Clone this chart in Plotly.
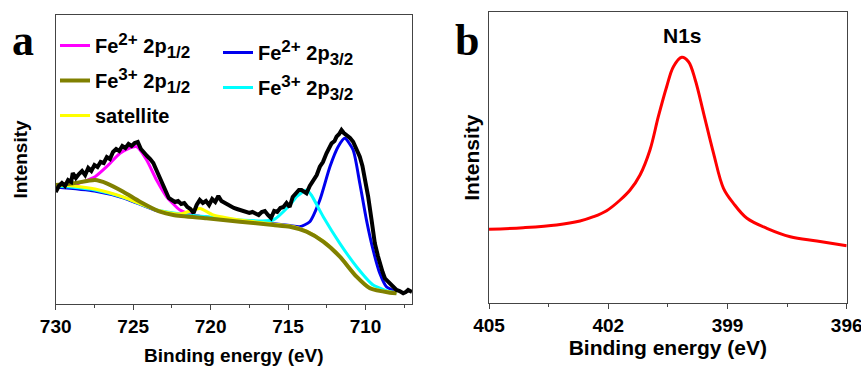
import plotly.graph_objects as go

# ---------------- Panel a: Fe 2p ----------------
fe_exp_be = [730.0, 729.8, 729.6, 729.4, 729.2, 729.0, 728.9, 728.7, 728.5, 728.3, 728.1, 727.9, 727.7,
             727.5, 727.3, 727.1, 726.9, 726.7, 726.5, 726.3, 726.1, 725.9, 725.7, 725.5, 725.3, 725.1,
             724.9, 724.7, 724.5, 724.3, 724.1, 723.9, 723.7, 723.5, 723.3, 723.1, 722.9, 722.7, 722.5,
             722.3, 722.1, 721.9, 721.7, 721.5, 721.3, 721.1, 720.9, 720.7, 720.5, 720.3, 720.1, 719.9,
             719.7, 719.5, 719.3, 719.1, 718.9, 718.7, 718.5, 718.3, 718.1, 717.9, 717.7, 717.5, 717.3,
             717.1, 716.9, 716.7, 716.5, 716.3, 716.1, 715.9, 715.7, 715.5, 715.3, 715.1, 714.9, 714.7,
             714.5, 714.3, 714.13, 713.95, 713.81, 713.6, 713.38, 713.15, 712.95, 712.75, 712.52, 712.35,
             712.19, 712.0, 711.87, 711.7, 711.55, 711.4, 711.23, 711.0, 710.8, 710.6, 710.37, 710.2,
             710.05, 709.83, 709.61, 709.4, 709.2, 709.08, 708.9, 708.75, 708.5, 708.32, 708.15, 708.0,
             707.8, 707.57, 707.4, 707.25, 707.0]
fe_exp_int = [112, 118, 121, 118, 124, 122, 131, 126, 130, 133, 129, 136, 133,
              139, 137, 142, 141, 147, 145, 152, 155, 153, 158, 156, 160, 158,
              161, 162, 155, 151, 148, 145, 141, 134, 127, 119, 112, 106, 104,
              102, 103, 100, 101, 97, 95, 91, 99, 104, 101, 103, 99, 105,
              102, 108, 103, 101, 100, 97, 96, 95, 94, 93, 92, 91, 92,
              90, 89, 92, 93, 89, 86, 93, 92, 96, 97, 101, 97, 107,
              110, 114, 114, 112, 110.7, 118, 124, 129, 137.3, 142, 150.7, 155,
              160.7, 163, 167.3, 170, 174, 171, 169, 166, 162.3, 156, 147.3, 138,
              127.3, 107.3, 84, 60.7, 48, 40.7, 32, 25.7, 22, 19, 16, 14,
              13, 10.7, 12, 14, 12]

fe2_p12_be = [730.0, 728.86, 728.22, 727.46, 726.71, 725.85, 725.3, 724.78, 724.13, 723.49, 722.84,
              721.98, 721.12, 720.26, 718.11, 716.0]
fe2_p12_int = [118, 119, 122.3, 127.3, 137.3, 150.7, 155.5, 157.3, 144, 124, 107.3,
               94, 89, 86.5, 83.5, 80]

fe2_p32_be = [730.0, 727.5, 725.6, 723.5, 722.0, 720.3, 718.1, 716.0, 714.88, 714.24, 713.6, 712.95,
              712.3, 711.77, 711.34, 710.8, 710.37, 709.94, 709.51, 709.08, 708.65, 708.0]
fe2_p32_int = [117, 113, 106, 93.5, 89.5, 87, 83.5, 80.5, 78.5, 77.3, 82.3, 104,
               137.3, 157.3, 165.7, 154, 120.7, 84, 54, 30.7, 17.3, 12.3]

fe3_p12_be = [730.0, 728.86, 727.46, 726.71, 725.64, 724.56, 723.27, 722.41, 720.26, 718.11, 715.96,
              714.88, 713.81, 712.73, 711.66, 710.58, 709.72, 708.43, 708.0]
fe3_p12_int = [119, 120.7, 124, 120.7, 112.3, 102.3, 92.3, 89, 85.7, 82.3, 79,
               77.3, 72.3, 62.3, 47.3, 27.3, 15.7, 11.3, 10.7]

fe3_p32_be = [730.0, 728.86, 727.46, 725.64, 723.49, 721.98, 720.26, 718.11, 715.96, 714.88, 714.45,
              713.8, 713.5, 712.73, 711.66, 710.58, 709.51, 708.43, 708.0]
fe3_p32_int = [118, 116.7, 114, 106.7, 94, 90, 87.3, 84, 84, 99, 107.3,
               114, 109, 87.3, 60.7, 37.3, 19, 12.3, 11.3]

sat_be = [730.0, 728.86, 727.46, 725.64, 723.49, 721.98, 720.69, 719.83, 718.11, 715.96, 714.88,
          713.81, 712.73, 711.66, 710.58, 709.72, 708.43, 708.0]
sat_int = [119, 118, 115, 107, 94, 90, 95.5, 89, 84, 80, 78,
           73, 63, 48, 28, 16.5, 12, 11.5]

# ---------------- Panel b: N 1s ----------------
n1s_be = [405.0, 404.14, 403.3, 402.71, 402.37, 402.04, 401.70, 401.45, 401.2, 400.95, 400.74,
          400.53, 400.36, 400.15, 399.98, 399.81, 399.6, 399.35, 399.1, 398.85, 398.51, 398.01,
          397.42, 396.75, 396.0]
n1s_int = [73.7, 75.3, 78, 82, 86.3, 92.3, 103, 113, 128, 153, 186.3,
           216.3, 236.3, 245.7, 241.3, 223, 189.7, 149.7, 114.7, 99.7, 84.7, 74.7,
           66.3, 62, 57.3]

fe_ticks = [730, 725, 720, 715, 710]
n_ticks = [405, 402, 399, 396]

FONT = "Liberation Sans, Arial, sans-serif"
W, H = 861, 366

fig = go.Figure()

def lbl(ion, orb):
    return ("Fe<sup><span style='font-size:17px'>%s</span></sup> 2p<sub><span style='font-size:17px'>%s</span></sub>"
            % (ion, orb))

def comp(x, y, name, color, width, rank, legend):
    fig.add_trace(go.Scatter(x=x, y=y, mode="lines", name=name,
                             line=dict(color=color, width=width, shape="spline", smoothing=0.6),
                             legend=legend, legendrank=rank, legendgroup=name, xaxis="x", yaxis="y"))

comp(fe2_p12_be, fe2_p12_int, lbl("2+", "1/2"), "#FF00FF", 3, 1, "legend")
comp(fe2_p32_be, fe2_p32_int, lbl("2+", "3/2"), "#0000EE", 3, 1, "legend2")
comp(fe3_p32_be, fe3_p32_int, lbl("3+", "3/2"), "#00FFFF", 3, 2, "legend2")
comp(sat_be, sat_int, "satellite", "#FFFF00", 3, 3, "legend")
comp(fe3_p12_be, fe3_p12_int, lbl("3+", "1/2"), "#808000", 4, 2, "legend")

fig.add_trace(go.Scatter(x=fe_exp_be, y=fe_exp_int, mode="lines", line=dict(color="black", width=4),
                         showlegend=False, xaxis="x", yaxis="y"))
fig.add_trace(go.Scatter(x=n1s_be, y=n1s_int, mode="lines", line=dict(color="#FF0000", width=3, shape="spline"),
                         showlegend=False, xaxis="x2", yaxis="y2"))

def px_x(p):
    return p / W

def px_y(p):
    return 1 - p / H

axis_common = dict(showline=True, mirror=True, linecolor="#444", linewidth=1, showgrid=False,
                   zeroline=False, automargin=False)

fig.update_layout(
    width=W, height=H, margin=dict(l=0, r=0, t=0, b=0),
    paper_bgcolor="white", plot_bgcolor="white",
    font=dict(family=FONT, color="black"),
    xaxis=dict(domain=[px_x(55.7), px_x(412)], range=[730, 707], tickvals=fe_ticks,
               ticks="outside", ticklen=5, tickcolor="#444",
               minor=dict(dtick=2.5, tick0=730, ticks="outside", ticklen=3, tickcolor="#444"),
               tickfont=dict(size=19, weight="bold"),
               title=dict(text="Binding energy (eV)", font=dict(size=19, weight="bold"), standoff=16),
               anchor="y", **axis_common),
    yaxis=dict(domain=[px_y(304), px_y(15)], range=[0, 289], showticklabels=False, ticks="",
               title=dict(text="Intensity", font=dict(size=19, weight="bold"), standoff=22),
               anchor="x", **axis_common),
    xaxis2=dict(domain=[px_x(489), px_x(846.7)], range=[405, 396], tickvals=n_ticks,
                ticks="outside", ticklen=5, tickcolor="#444", ticklabeloverflow="allow",
                minor=dict(dtick=1.5, tick0=405, ticks="outside", ticklen=3, tickcolor="#444"),
                tickfont=dict(size=19, weight="bold"),
                title=dict(text="Binding energy (eV)", font=dict(size=21, weight="bold"), standoff=5),
                anchor="y2", **axis_common),
    yaxis2=dict(domain=[px_y(303), px_y(12.3)], range=[0, 290.7], showticklabels=False, ticks="",
                title=dict(text="Intensity", font=dict(size=21, weight="bold"), standoff=2),
                anchor="x2", **axis_common),
    legend=dict(x=px_x(55), y=px_y(26), xanchor="left", yanchor="top", bgcolor="rgba(0,0,0,0)",
                font=dict(size=20, weight="bold"), tracegroupgap=6, itemwidth=30),
    legend2=dict(x=px_x(218), y=px_y(33), xanchor="left", yanchor="top", bgcolor="rgba(0,0,0,0)",
                 font=dict(size=20, weight="bold"), tracegroupgap=6, itemwidth=30),
    annotations=[
        dict(text="a", x=px_x(23), y=px_y(40), xref="paper", yref="paper", showarrow=False,
             xanchor="center", yanchor="middle",
             font=dict(family="Liberation Serif, Times New Roman, serif", size=44, weight="bold")),
        dict(text="b", x=px_x(466.7), y=px_y(40), xref="paper", yref="paper", showarrow=False,
             xanchor="center", yanchor="middle",
             font=dict(family="Liberation Serif, Times New Roman, serif", size=44, weight="bold")),
        dict(text="N1s", x=px_x(682), y=px_y(35), xref="paper", yref="paper", showarrow=False,
             xanchor="center", yanchor="middle", font=dict(size=21, weight="bold")),
    ],
)

fig.write_html("out.html", config={"displayModeBar": False},
               post_script="document.body.style.margin='0';")
